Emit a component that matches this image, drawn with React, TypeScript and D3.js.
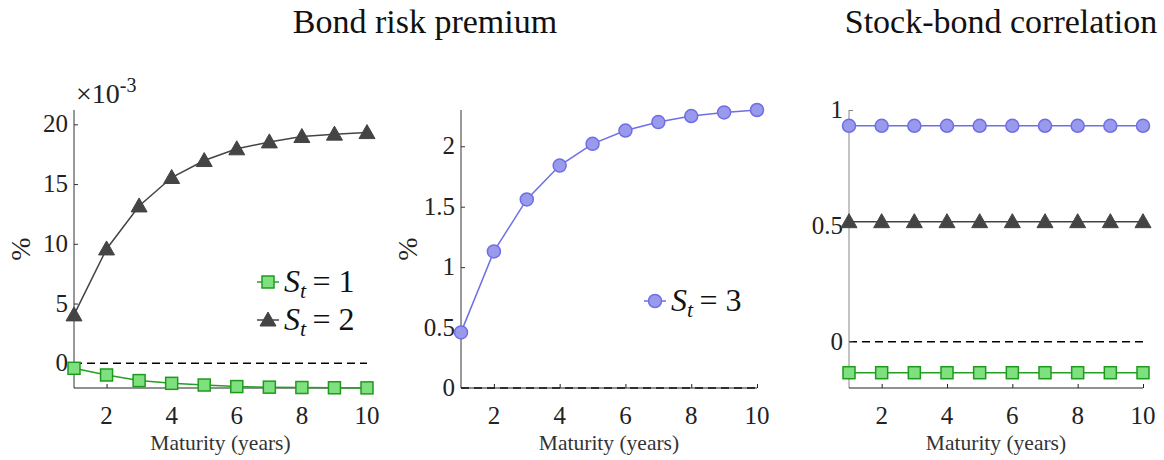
import React, { useEffect, useRef } from 'react';
import * as d3 from 'd3';

// maturities in years
const maturity = [1, 2, 3, 4, 5, 6, 7, 8, 9, 10];

// bond risk premium, states 1 and 2 (in units of 1e-3 %)
const premiumS1 = [-0.42, -0.98, -1.45, -1.68, -1.82, -1.95, -2.0, -2.03, -2.05, -2.06];
const premiumS2 = [4.05, 9.57, 13.17, 15.55, 16.97, 17.95, 18.53, 18.98, 19.18, 19.31];
// bond risk premium, state 3 (%)
const premiumS3 = [0.46, 1.13, 1.56, 1.84, 2.02, 2.13, 2.2, 2.25, 2.28, 2.3];

// stock-bond correlation by state
const corrS1 = [-0.134, -0.134, -0.134, -0.134, -0.134, -0.134, -0.134, -0.134, -0.134, -0.134];
const corrS2 = [0.518, 0.518, 0.518, 0.518, 0.518, 0.518, 0.518, 0.518, 0.518, 0.518];
const corrS3 = [0.932, 0.932, 0.932, 0.932, 0.932, 0.932, 0.932, 0.932, 0.932, 0.932];

const xTicks = [2, 4, 6, 8, 10];
const yTicks1 = [0, 5, 10, 15, 20];
const yTicks2 = [0, 0.5, 1, 1.5, 2];
const yTicks3 = [0, 0.5, 1];

const FONT = '"Liberation Serif", "DejaVu Serif", serif';

const styles: any = {
  s1: { line: '#22a022', fill: '#7ee07e', stroke: '#1f9a1f', shape: 'square' },
  s2: { line: '#444444', fill: '#444444', stroke: '#444444', shape: 'triangle' },
  s3: { line: '#6e6ee6', fill: '#9a9aec', stroke: '#6e6ee6', shape: 'circle' },
};

function drawMarker(g: any, shape: string, x: number, y: number, st: any) {
  if (shape === 'square') {
    g.append('rect').attr('x', x - 6).attr('y', y - 6).attr('width', 12).attr('height', 12)
      .attr('fill', st.fill).attr('stroke', st.stroke).attr('stroke-width', 1.5);
  } else if (shape === 'triangle') {
    g.append('path').attr('d', `M${x},${y - 8}L${x + 8},${y + 6}L${x - 8},${y + 6}Z`)
      .attr('fill', st.fill).attr('stroke', st.stroke).attr('stroke-width', 1);
  } else {
    g.append('circle').attr('cx', x).attr('cy', y).attr('r', 6.5)
      .attr('fill', st.fill).attr('stroke', st.stroke).attr('stroke-width', 1.5);
  }
}

function panel(svg: any, opt: any) {
  const { left, right, top, bottom, yDomain, yTicks, series, yAxisColor, showYLabel } = opt;
  const x = d3.scaleLinear().domain([1, 10]).range([left, right]);
  const y = d3.scaleLinear().domain(yDomain).range([bottom, top]);
  const g = svg.append('g');

  // zero reference line
  g.append('line').attr('x1', x(1)).attr('x2', x(10)).attr('y1', y(0)).attr('y2', y(0))
    .attr('stroke', '#000').attr('stroke-width', 1.5).attr('stroke-dasharray', '8,5');

  // y axis
  const ya = g.append('g').attr('transform', `translate(${left},0)`)
    .call(d3.axisRight(y).tickValues(yTicks).tickSize(4).tickFormat((d: any) => ''));
  ya.select('.domain').attr('stroke', yAxisColor).attr('d', `M0,${top}V${bottom}`);
  ya.selectAll('.tick line').attr('stroke', yAxisColor);
  g.selectAll('.ylab').data(yTicks).join('text').attr('class', 'ylab')
    .attr('x', left - 6).attr('y', (d: number) => y(d) + 8)
    .attr('text-anchor', 'end').attr('font-family', FONT).attr('font-size', 25).attr('fill', '#222')
    .text((d: number) => d3.format('~g')(d));

  // x axis
  const xa = g.append('g').attr('transform', `translate(0,${bottom})`)
    .call(d3.axisTop(x).tickValues(xTicks).tickSize(4).tickFormat((d: any) => ''));
  xa.select('.domain').attr('stroke', '#222').attr('d', `M${left},0H${right}`);
  xa.selectAll('.tick line').attr('stroke', '#222');
  g.selectAll('.xlab').data(xTicks).join('text').attr('class', 'xlab')
    .attr('x', (d: number) => x(d)).attr('y', bottom + 36)
    .attr('text-anchor', 'middle').attr('font-family', FONT).attr('font-size', 25).attr('fill', '#222')
    .text((d: number) => d);
  g.append('text').attr('x', (left + right) / 2).attr('y', bottom + 62)
    .attr('text-anchor', 'middle').attr('font-family', FONT).attr('font-size', 21.5).attr('fill', '#333')
    .text('Maturity (years)');

  if (showYLabel) {
    const cy = (top + bottom) / 2;
    g.append('text').attr('transform', `translate(${left - 44},${cy}) rotate(-90)`)
      .attr('text-anchor', 'middle').attr('font-family', FONT).attr('font-size', 28).attr('fill', '#222')
      .text('%');
  }

  series.forEach((s: any) => {
    const st = styles[s.key];
    const line = d3.line<number>().x((d, i) => x(maturity[i])).y((d) => y(d));
    g.append('path').attr('d', line(s.values)).attr('fill', 'none')
      .attr('stroke', st.line).attr('stroke-width', 1.5);
    s.values.forEach((v: number, i: number) => drawMarker(g, st.shape, x(maturity[i]), y(v), st));
  });
}

function legendRow(svg: any, key: string, x: number, y: number, label: string) {
  const st = styles[key];
  const g = svg.append('g');
  g.append('line').attr('x1', x).attr('x2', x + 22).attr('y1', y).attr('y2', y)
    .attr('stroke', st.line).attr('stroke-width', 1.5);
  drawMarker(g, st.shape, x + 11, y, st);
  const t = g.append('text').attr('x', x + 27).attr('y', y + 10)
    .attr('font-family', FONT).attr('font-size', 32).attr('fill', '#111');
  t.append('tspan').attr('font-style', 'italic').text('S');
  t.append('tspan').attr('font-style', 'italic').attr('font-size', 22).attr('dy', 6).text('t');
  t.append('tspan').attr('dy', -6).text('\u2009= ' + label);
}

export default function App() {
  const ref = useRef<SVGSVGElement>(null);

  useEffect(() => {
    const svg = d3.select(ref.current);
    svg.selectAll('*').remove();

    svg.append('text').attr('x', 425).attr('y', 33).attr('text-anchor', 'middle')
      .attr('font-family', FONT).attr('font-size', 34).attr('fill', '#111').text('Bond risk premium');
    svg.append('text').attr('x', 1001).attr('y', 33).attr('text-anchor', 'middle')
      .attr('font-family', FONT).attr('font-size', 34).attr('fill', '#111').text('Stock-bond correlation');

    panel(svg, {
      left: 74, right: 367, top: 110, bottom: 388, yDomain: [-2.07, 21.2], yTicks: yTicks1,
      yAxisColor: '#333', showYLabel: true,
      series: [{ key: 's2', values: premiumS2 }, { key: 's1', values: premiumS1 }],
    });
    // exponent label
    const ex = svg.append('text').attr('x', 76).attr('y', 103).attr('font-family', FONT)
      .attr('font-size', 28).attr('fill', '#222');
    ex.append('tspan').text('\u00d710');
    ex.append('tspan').attr('dy', -11).attr('font-size', 20).text('-3');

    panel(svg, {
      left: 461, right: 757, top: 110, bottom: 388, yDomain: [0, 2.3], yTicks: yTicks2,
      yAxisColor: '#333', showYLabel: true,
      series: [{ key: 's3', values: premiumS3 }],
    });

    panel(svg, {
      left: 849, right: 1143, top: 110, bottom: 388, yDomain: [-0.2, 1], yTicks: yTicks3,
      yAxisColor: '#888', showYLabel: false,
      series: [{ key: 's3', values: corrS3 }, { key: 's2', values: corrS2 }, { key: 's1', values: corrS1 }],
    });

    legendRow(svg, 's1', 257, 282, '1');
    legendRow(svg, 's2', 257, 320, '2');
    legendRow(svg, 's3', 644, 301, '3');
  }, []);

  return (
    <svg ref={ref} width={1164} height={460}
      style={{ position: 'absolute', left: 0, top: 0, background: '#fff' }} />
  );
}
